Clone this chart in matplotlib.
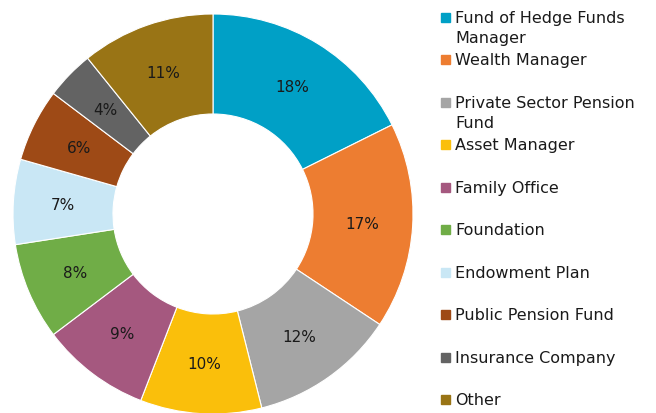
import matplotlib.pyplot as plt

labels = ["Fund of Hedge Funds\nManager", "Wealth Manager", "Private Sector Pension\nFund",
          "Asset Manager", "Family Office", "Foundation", "Endowment Plan",
          "Public Pension Fund", "Insurance Company", "Other"]
shares = [18, 17, 12, 10, 9, 8, 7, 6, 4, 11]
colors = ["#00A0C6", "#ED7D31", "#A5A5A5", "#FABF0B", "#A5587F",
          "#70AD47", "#C9E7F5", "#9E4A16", "#636363", "#997415"]

plt.rcParams['font.family'] = ['DejaVu Sans']
W, H = 656, 414
fig = plt.figure(figsize=(W / 100, H / 100), dpi=100)

# pie: center at (213, 215) px, radius 200 px
cx, cy, R = 213, 215, 200
ax = fig.add_axes([(cx - R) / W, (H - cy - R) / H, 2 * R / W, 2 * R / H])
wedges, texts, autotexts = ax.pie(
    shares, colors=colors, startangle=90, counterclock=False,
    autopct=lambda p: "%d%%" % round(p * sum(shares) / 100), pctdistance=0.75,
    wedgeprops=dict(width=0.5, edgecolor="white", linewidth=0.8),
    textprops=dict(fontsize=11, color="#1a1a1a"))
ax.set_xlim(-1, 1)
ax.set_ylim(-1, 1)
ax.set_aspect("equal")
ax.axis("off")

# legend drawn by hand
for i, (lab, col) in enumerate(zip(labels, colors)):
    y = 18 + i * 42.5
    fig.patches.append(plt.Rectangle((441 / W, 1 - (y + 4.5) / H), 9 / W, 9 / H,
                                     transform=fig.transFigure, color=col))
    fig.text(455 / W, 1 - (y - 7) / H, lab, fontsize=11.5, color="#1a1a1a",
             va="top", ha="left", linespacing=1.45)

fig.savefig("out.png", dpi=100)
